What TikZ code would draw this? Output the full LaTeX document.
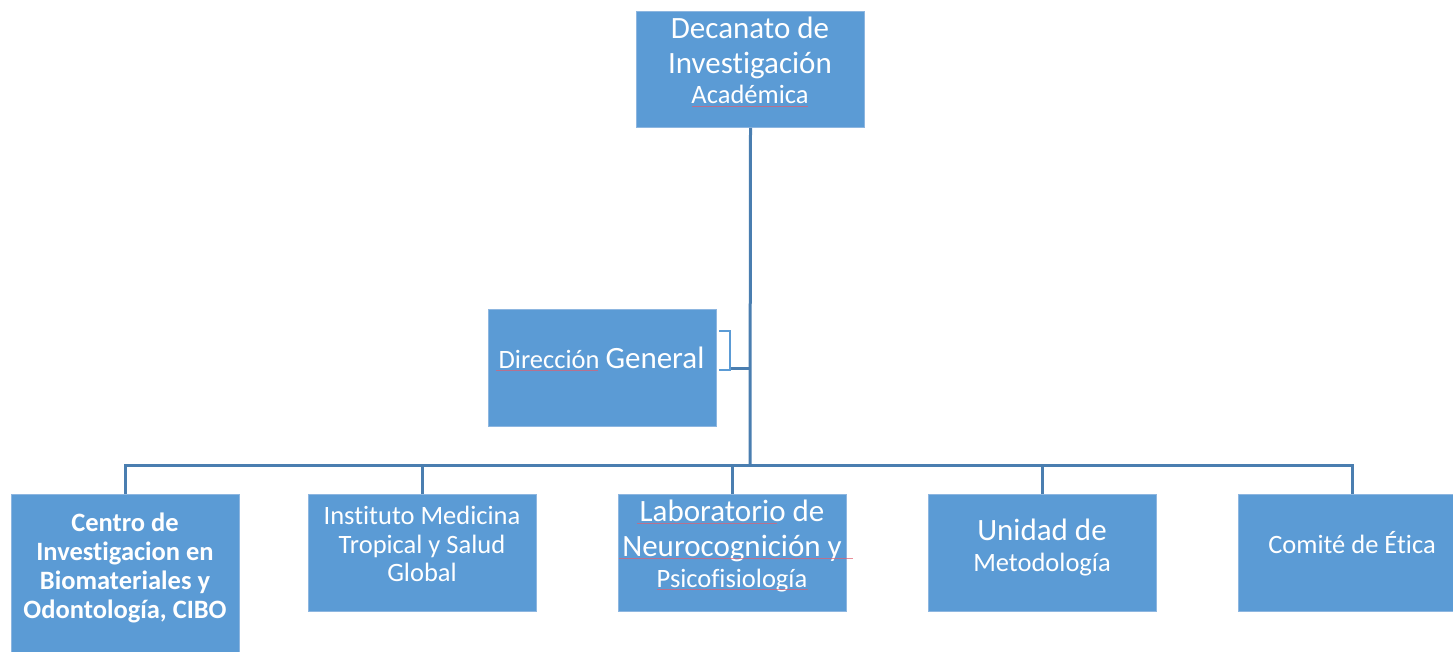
\documentclass[tikz,border=0pt]{standalone}
\usepackage{fontspec}
\setmainfont{Carlito}[Ligatures=CommonOff]
\definecolor{boxblue}{HTML}{5B9BD5}
\definecolor{lineblue}{HTML}{4A7EB0}
\definecolor{boxedge}{HTML}{8DB6E0}
\definecolor{spell}{HTML}{E06070}
\newcommand{\bigtxt}{\fontsize{31}{37}\selectfont}
\newcommand{\smalltxt}{\fontsize{26.5}{32}\selectfont}
\begin{document}
\begin{tikzpicture}[x=1pt,y=-1pt,
  orgbox/.style={draw=boxedge, line width=1pt, fill=boxblue, minimum width=228pt,
    minimum height=117pt, inner sep=0pt, anchor=north west},
  conn/.style={draw=lineblue, line width=3pt},
  txt/.style={text=white, anchor=base, inner sep=0pt},
  squig/.style={draw=spell, line width=0.8pt, opacity=0.7}]
\useasboundingbox (0,0) rectangle (1453,652);
\clip (0,0) rectangle (1453,652);
% boxes
\node[orgbox, minimum height=116pt] (dec) at (636,11) {};
\node[orgbox] (dir) at (488,309) {};
\node[orgbox, minimum height=170pt] (cibo) at (11,494) {};
\node[orgbox] (imt) at (308,494) {};
\node[orgbox] (lab) at (618,494) {};
\node[orgbox] (uni) at (928,494) {};
\node[orgbox] (com) at (1238,494) {};
% connectors
\coordinate (bus) at (750,465);
\coordinate (brk) at (730,368);
\draw[conn] (dec.south) -- (bus);
\draw[conn] (cibo.north) |- (bus) -| (com.north);
\draw[conn] (imt.north) -- (imt.north |- bus);
\draw[conn] (lab.north) -- (lab.north |- bus);
\draw[conn] (uni.north) -- (uni.north |- bus);
\draw[conn] (brk) -- (brk -| dec.south);
\draw[boxblue, line width=2.5pt] (719,331) -- (730,331) -- (730,370) -- (719,370);
% texts
\node[txt, font=\bigtxt] (t1) at (750,38.5) {Decanato de};
\node[txt, font=\bigtxt] (t2) at (750,74) {Investigación};
\node[txt, font=\smalltxt] (t3) at (750,104) {Académica};
\node[txt] (t4) at (601.5,368.3) {\smalltxt Dirección \bigtxt General};
\node[txt, font=\smalltxt\bfseries] (c1) at (125,531) {Centro de};
\node[txt, font=\smalltxt\bfseries] (c2) at (125,560) {Investigacion en};
\node[txt, font=\smalltxt\bfseries] (c3) at (125,589) {Biomateriales y};
\node[txt, font=\smalltxt\bfseries] (c4) at (125,618) {Odontología, CIBO};
\node[txt, font=\smalltxt] (i1) at (422,524) {Instituto Medicina};
\node[txt, font=\smalltxt] (i2) at (422,553) {Tropical y Salud};
\node[txt, font=\smalltxt] (i3) at (422,581.5) {Global};
\node[txt, font=\bigtxt] (l1) at (732,521) {Laboratorio de};
\node[txt, font=\bigtxt] (l2) at (732,556.5) {Neurocognición y};
\node[txt, font=\smalltxt] (l3) at (732,587) {Psicofisiología};
\node[txt, font=\bigtxt] (u1) at (1042,540) {Unidad de};
\node[txt, font=\smalltxt] (u2) at (1042,571) {Metodología};
\node[txt, font=\smalltxt] (k1) at (1352,553) {Comité de Ética};
% spell-check underlines
\draw[squig] (692,106) -- (808,106);
\draw[squig] (496,370.5) -- (598,370.5);
\draw[squig] (637,523) -- (777,523);
\draw[squig] (619,558.5) -- (853,558.5);
\draw[squig] (657,589) -- (808,589);
\end{tikzpicture}
\end{document}
